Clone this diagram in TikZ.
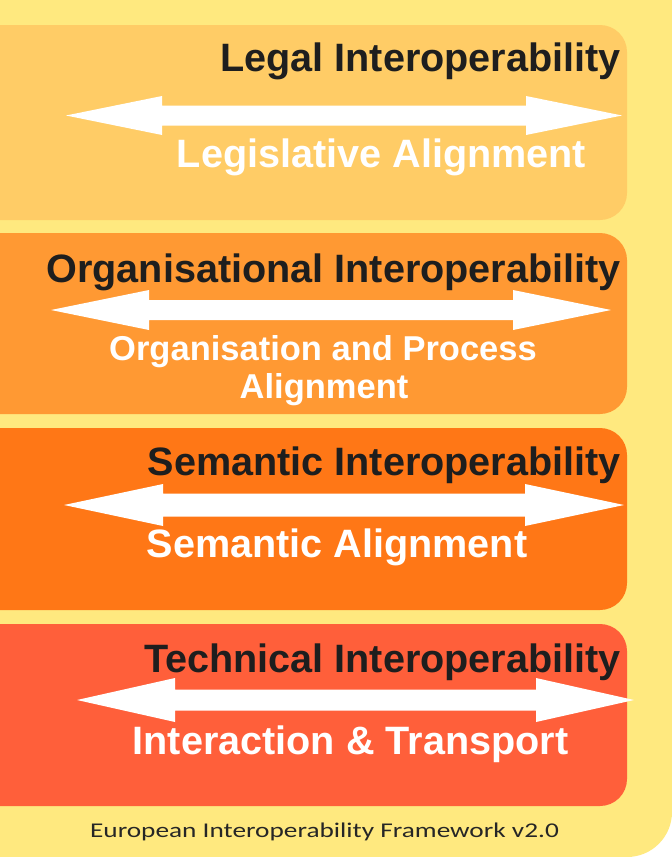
\documentclass[tikz,border=0pt]{standalone}
\usepackage{fontspec}
\setmainfont{Liberation Sans}
\newfontfamily\capfont{Carlito}
\definecolor{bgyellow}{HTML}{FFE97F}
\definecolor{legalc}{HTML}{FFCC66}
\definecolor{orgc}{HTML}{FF9933}
\definecolor{semc}{HTML}{FF7716}
\definecolor{techc}{HTML}{FF5F3A}
\definecolor{headc}{HTML}{1E1E1E}
\newcommand\DblArrow[6]{% left tip, right tip, y, head length, half head, half shaft
  \fill[arrowfill] (#1,#3) -- ({#1+#4},{#3-#5}) -- ({#1+#4},{#3-#6}) -- ({#2-#4},{#3-#6})
    -- ({#2-#4},{#3-#5}) -- (#2,#3) -- ({#2-#4},{#3+#5}) -- ({#2-#4},{#3+#6})
    -- ({#1+#4},{#3+#6}) -- ({#1+#4},{#3+#5}) -- cycle;}
\begin{document}
\begin{tikzpicture}[x=1pt,y=-1pt,
  layerbox/.style={rounded corners=27pt},
  arrowfill/.style={fill=white},
  headtext/.style={anchor=base east, inner sep=0pt, text=headc, font=\fontsize{39.6}{45}\selectfont\bfseries},
  aligntext/.style={anchor=base, inner sep=0pt, text=white, font=\fontsize{39.6}{45}\selectfont\bfseries},
  smalltext/.style={anchor=base, inner sep=0pt, text=white, font=\fontsize{34.5}{40}\selectfont\bfseries},
  captext/.style={anchor=base, inner sep=0pt, text=black!85, font=\capfont\fontsize{21}{25}\selectfont}]
\useasboundingbox (0,0) rectangle (672,857);
\clip (0,0) rectangle (672,857);
\fill[white] (0,0) rectangle (672,857);
\fill[bgyellow, rounded corners=45pt] (-80,-80) rectangle (672,857);
% layers
\fill[legalc, layerbox] (-60,25) rectangle (627,220);
\fill[orgc, layerbox] (-60,233) rectangle (627,414);
\fill[semc, layerbox] (-60,428) rectangle (627,610);
\fill[techc, layerbox] (-60,624) rectangle (627,806);
% arrows
\DblArrow{66}{622}{115.5}{96}{19.5}{10}
\DblArrow{51}{611}{310}{98}{20}{10}
\DblArrow{64}{624}{505}{99}{21}{11.5}
\DblArrow{77}{634}{700}{98}{22}{10.5}
% texts
\node[headtext] (legal) at (621,71) {Legal Interoperability};
\node[aligntext] (legalal) at (381.5,167) {Legislative Alignment};
\node[headtext] (org) at (621,282) {Organisational Interoperability};
\node[smalltext] (orgal1) at (323,360) {Organisation and Process};
\node[smalltext] (orgal2) at (324,398) {Alignment};
\node[headtext] (sem) at (621,475) {Semantic Interoperability};
\node[aligntext] (semal) at (337,557) {Semantic Alignment};
\node[headtext] (tech) at (621,672) {Technical Interoperability};
\node[aligntext] (techal) at (350.5,754) {Interaction \& Transport};
\node[captext] (caption) at (324.5,837) {\scalebox{1.3}[1]{European Interoperability Framework v2.0}};
\end{tikzpicture}
\end{document}
